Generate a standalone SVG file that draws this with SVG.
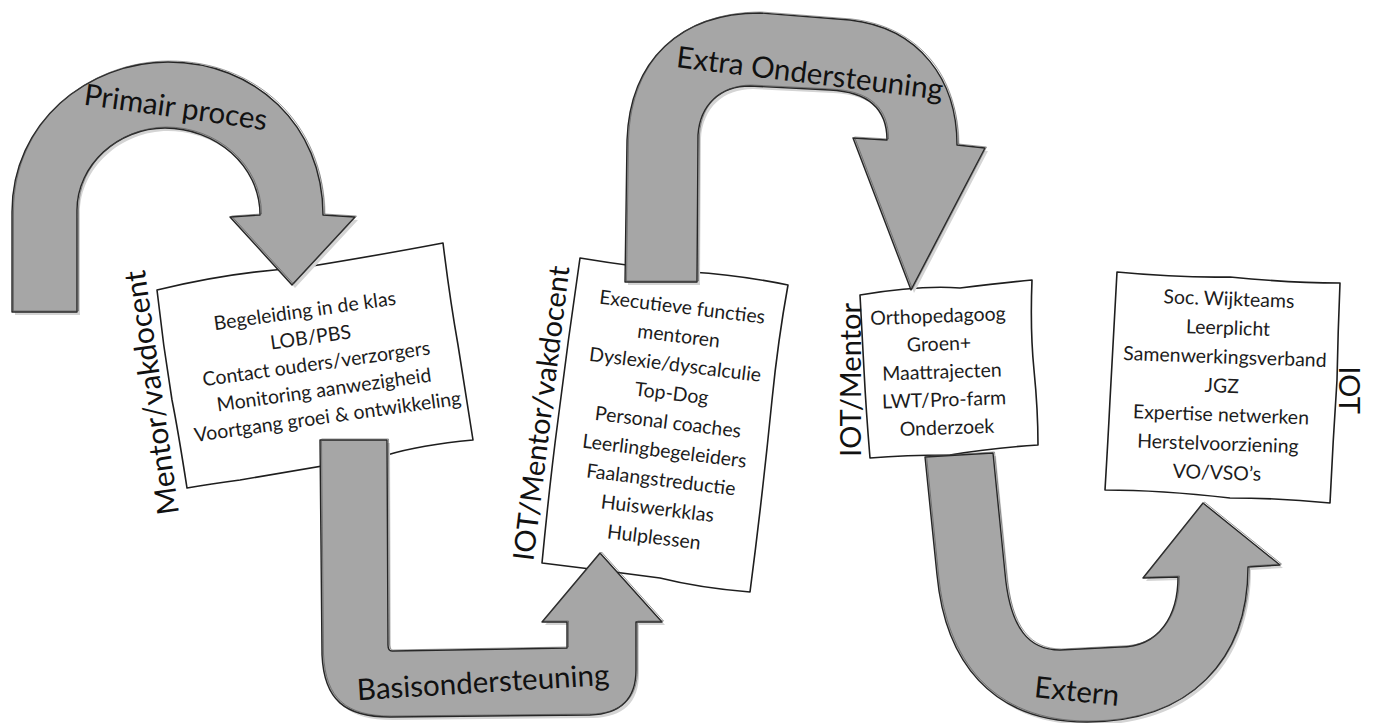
<svg xmlns="http://www.w3.org/2000/svg" width="1377" height="723" viewBox="0 0 1377 723">
<style>
.bg{fill:#ffffff}
.box{fill:#ffffff;stroke:#1e1e1e;stroke-width:1.6;stroke-linejoin:round}
.arrow{fill:#a6a6a6;stroke:#262626;stroke-width:1.4;stroke-linejoin:round}
.sketch{fill:none;stroke:#4a4a4a;stroke-width:0.8;opacity:0.7;stroke-linejoin:round}
.shadow{fill:#d4d4d4;stroke:none}
.t{font-family:Lato,"Open Sans","Liberation Sans",sans-serif;font-size:19.5px;fill:#1c1c1c;text-anchor:middle;dominant-baseline:central}
.side{font-family:Lato,"Open Sans","Liberation Sans",sans-serif;font-size:29px;fill:#111;text-anchor:middle;dominant-baseline:central}
.lbl{font-family:Lato,"Open Sans","Liberation Sans",sans-serif;font-size:29.5px;fill:#111;text-anchor:middle;dominant-baseline:central}
</style>
<defs>
<path id="a1" d="M12,312 L12,212 C12,122 88,62 168,62 C255,62 323,125 323,215 L355,217 L292,285 L230,217 L260,215 C260,165 215,128 165,128 C118,128 77,165 77,210 L77,312 Z"/>
<path id="a2" d="M320,440 L322,655 C324,700 345,717 390,717 L590,715 C620,714 636,700 636,670 L636,622 L662,622 L600,553 L542,622 L567,622 L567,648 L392,651 C389,651 388,648 388,645 L387,440 Z"/>
<path id="a3" d="M625,282 L627,140 C630,60 680,13 760,13 L850,20 C920,28 957,80 957,145 L985,148 L911,290 L853,138 L887,140 C887,110 870,92 830,90 L750,86 C720,86 700,105 698,135 L697,282 Z"/>
<path id="a4" d="M925,457 L937,575 C945,660 990,722 1087,722 C1190,722 1248,660 1248,567 L1280,565 L1203,503 L1143,578 L1178,577 C1178,615 1160,647 1120,647 L1060,650 C1030,650 1010,630 1005,573 L993,453 Z"/>
</defs>
<rect class="bg" x="0" y="0" width="1377" height="723"/>

<g id="node-primair">
<path class="box" d="M157,290 Q230,272 300,268 Q380,255 443,243 Q450,300 458,345 Q466,395 473,440 Q420,445 387,455 Q300,470 240,480 Q210,484 187,488 Q178,430 172,400 Q163,345 157,290 Z"/>
<text class="side" style="font-size:30px" transform="translate(150,393) rotate(-98)">Mentor/vakdocent</text>
<g transform="rotate(-8 315 362)">
<text class="t" x="312" y="309">Begeleiding in de klas</text>
<text class="t" x="314" y="336">LOB/PBS</text>
<text class="t" x="316" y="363">Contact ouders/verzorgers</text>
<text class="t" x="320" y="390">Monitoring aanwezigheid</text>
<text class="t" x="320" y="417">Voortgang groei &amp; ontwikkeling</text>
</g>
</g>

<g id="node-basis">
<path class="box" d="M580,258 Q640,268 690,272 Q740,275 788,285 Q778,340 772,400 Q762,500 750,592 Q700,588 660,578 Q600,570 542,563 Q550,480 558,420 Q568,340 580,258 Z"/>
<text class="side" transform="translate(540,413) rotate(-83)">IOT/Mentor/vakdocent</text>
<g transform="rotate(7 665 423)">
<text class="t" x="668" y="305">Executieve functies</text>
<text class="t" x="668" y="334">mentoren</text>
<text class="t" x="668" y="363">Dyslexie/dyscalculie</text>
<text class="t" x="668" y="392">Top-Dog</text>
<text class="t" x="668" y="421">Personal coaches</text>
<text class="t" x="668" y="450">Leerlingbegeleiders</text>
<text class="t" x="668" y="479">Faalangstreductie</text>
<text class="t" x="668" y="508">Huiswerkklas</text>
<text class="t" x="668" y="537">Hulplessen</text>
</g>
</g>

<g id="node-extra">
<path class="box" d="M860,295 Q920,285 960,288 Q1000,283 1032,280 Q1030,330 1034,370 Q1038,410 1038,445 Q990,448 950,455 Q905,455 870,458 Q866,410 864,370 Q862,330 860,295 Z"/>
<text class="side" transform="translate(849,380) rotate(-90)">IOT/Mentor</text>
<g transform="rotate(-2 942 372)">
<text class="t" x="940" y="315">Orthopedagoog</text>
<text class="t" x="940" y="343">Groen+</text>
<text class="t" x="942" y="371">Maattrajecten</text>
<text class="t" x="943" y="399">LWT/Pro-farm</text>
<text class="t" x="945" y="427">Onderzoek</text>
</g>
</g>

<g id="node-extern">
<path class="box" d="M1117,272 Q1180,278 1230,277 Q1290,283 1340,283 Q1338,330 1337,380 Q1333,440 1330,503 Q1280,498 1230,498 Q1160,490 1105,490 Q1108,440 1110,400 Q1114,330 1117,272 Z"/>
<text class="side" transform="translate(1350,390) rotate(90)">IOT</text>
<g transform="rotate(2 1223 385)">
<text class="t" x="1226" y="298">Soc. Wijkteams</text>
<text class="t" x="1226" y="327">Leerplicht</text>
<text class="t" x="1224" y="356">Samenwerkingsverband</text>
<text class="t" x="1222" y="385">JGZ</text>
<text class="t" x="1222" y="414">Expertise netwerken</text>
<text class="t" x="1220" y="443">Herstelvoorziening</text>
<text class="t" x="1220" y="472">VO/VSO’s</text>
</g>
</g>

<g id="connectors">
<g id="arrow-primair">
<use href="#a1" class="shadow" transform="translate(3,3)"/>
<use href="#a1" class="arrow"/>
<use href="#a1" class="sketch" transform="translate(1.5,-1)"/>
<text class="lbl" transform="translate(176,106) rotate(8)">Primair proces</text>
</g>
<g id="arrow-basis">
<use href="#a2" class="shadow" transform="translate(3,3)"/>
<use href="#a2" class="arrow"/>
<use href="#a2" class="sketch" transform="translate(1.5,-1)"/>
<text class="lbl" transform="translate(483,681) rotate(-3.5)">Basisondersteuning</text>
</g>
<g id="arrow-extra">
<use href="#a3" class="shadow" transform="translate(3,3)"/>
<use href="#a3" class="arrow"/>
<use href="#a3" class="sketch" transform="translate(1.5,-1)"/>
<text class="lbl" transform="translate(810,72) rotate(7)">Extra Ondersteuning</text>
</g>
<g id="arrow-extern">
<use href="#a4" class="shadow" transform="translate(3,3)"/>
<use href="#a4" class="arrow"/>
<use href="#a4" class="sketch" transform="translate(1.5,-1)"/>
<text class="lbl" transform="translate(1077,690) rotate(6)">Extern</text>
</g>
</g>
</svg>
